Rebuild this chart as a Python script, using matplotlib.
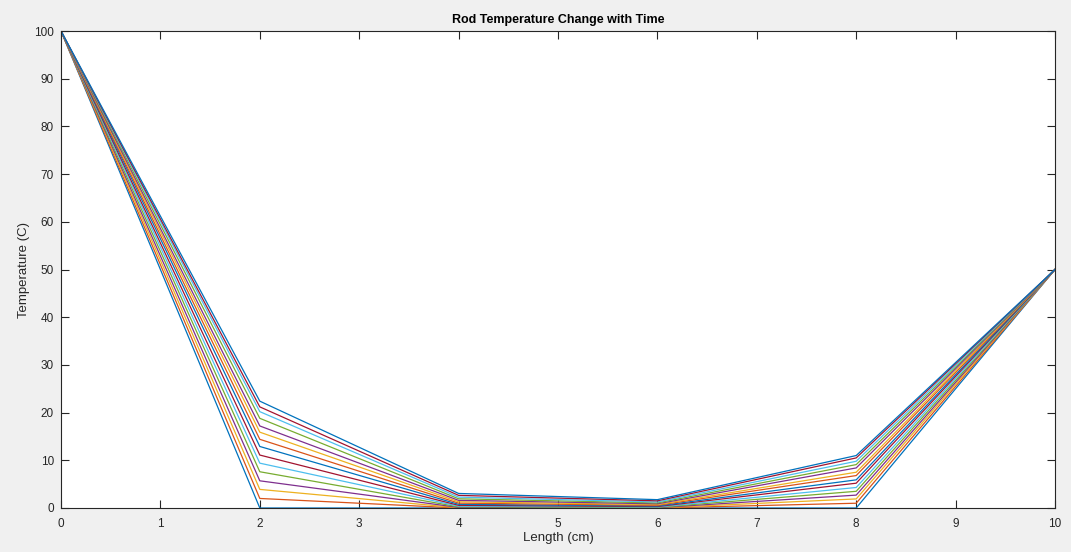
import matplotlib.pyplot as plt

# node positions along the rod (cm)
x_nodes = [0, 2, 4, 6, 8, 10]
t_left = 100
t_right = 50

# temperature at interior nodes, one entry per plotted time step
t_x2 = [0, 2.0, 3.9, 5.7, 7.6, 9.4, 11.1, 12.9, 14.4, 15.9, 17.2, 18.8, 20.2, 21.2, 22.4]
t_x4 = [0, 0, 0.04, 0.12, 0.23, 0.38, 0.56, 0.77, 1.02, 1.3, 1.6, 1.93, 2.28, 2.65, 3.05]
t_x6 = [0, 0, 0.02, 0.06, 0.12, 0.2, 0.3, 0.42, 0.56, 0.71, 0.88, 1.06, 1.26, 1.5, 1.75]
t_x8 = [0, 1.0, 1.9, 2.7, 3.5, 4.3, 5.2, 5.9, 6.8, 7.5, 8.4, 9.1, 9.8, 10.5, 11.0]

matlab_colors = ['#0072BD', '#D95319', '#EDB120', '#7E2F8E', '#77AC30', '#4DBEEE', '#A2142F']
axcol = '#262626'

plt.rcParams['font.family'] = ['Liberation Sans', 'DejaVu Sans']

fig = plt.figure(figsize=(10.71, 5.52), dpi=100)
fig.patch.set_facecolor('#f0f0f0')
ax = fig.add_axes([61 / 1071, 44 / 552, 994 / 1071, 477 / 552])
ax.set_facecolor('white')

for i in range(len(t_x2)):
    temps = [t_left, t_x2[i], t_x4[i], t_x6[i], t_x8[i], t_right]
    ax.plot(x_nodes, temps, color=matlab_colors[i % 7], lw=0.9)

ax.set_xlim(0, 10)
ax.set_ylim(0, 100)
ax.set_xticks(range(0, 11))
ax.set_yticks(range(0, 101, 10))
ax.tick_params(direction='in', top=True, right=True, length=6, width=0.8,
               colors=axcol, labelsize=8.5)
ax.tick_params(axis='x', pad=7)
ax.tick_params(axis='y', pad=5)
for s in ax.spines.values():
    s.set_color(axcol)
    s.set_linewidth(0.8)

ax.set_title('Rod Temperature Change with Time', fontsize=9, fontweight='bold',
             color='black', pad=6)
ax.set_xlabel('Length (cm)', fontsize=9.5, color=axcol, labelpad=2)
ax.set_ylabel('Temperature (C)', fontsize=9.5, color=axcol, labelpad=3)

fig.savefig('out.png', dpi=100, facecolor=fig.get_facecolor())
